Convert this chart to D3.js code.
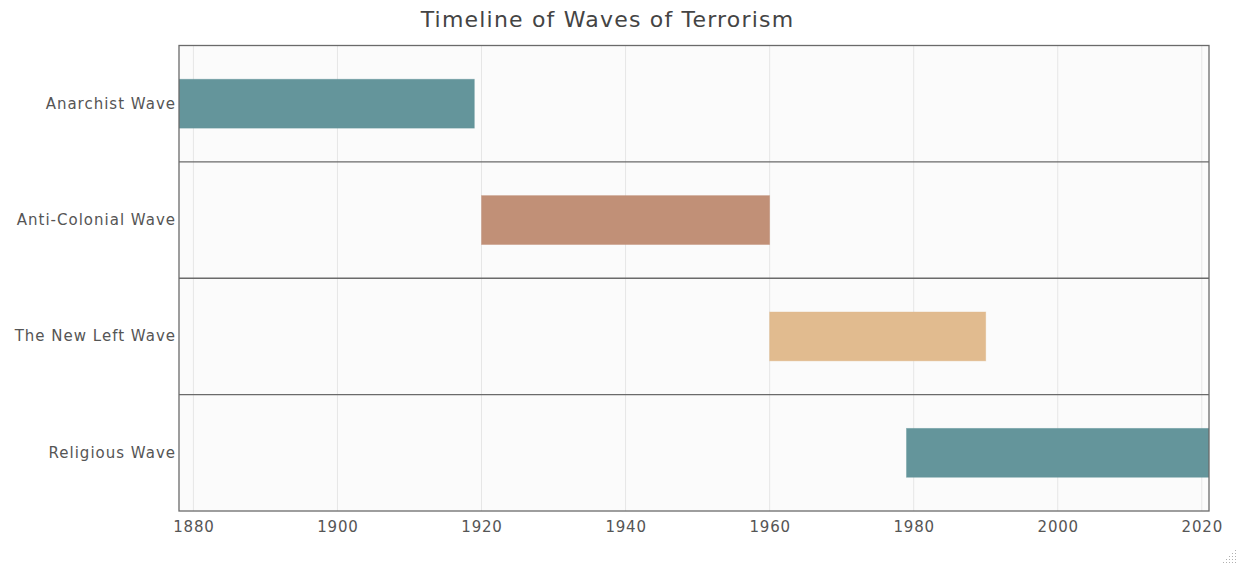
<!DOCTYPE html>
<html>
<head>
<meta charset="utf-8">
<script src="https://cdn.jsdelivr.net/npm/d3@7"></script>
<style>
  html, body { margin: 0; padding: 0; background: #fff; }
  svg { display: block; font-family: "DejaVu Sans", Verdana, sans-serif; }
</style>
</head>
<body>
<svg id="chart" width="1238" height="566"></svg>
<script>
// Rapoport's four waves of modern terrorism
const waves = ["Anarchist Wave", "Anti-Colonial Wave", "The New Left Wave", "Religious Wave"];
const startYears = [1878, 1920, 1960, 1979];
const endYears = [1919, 1960, 1990, 2021];
const waveColors = ["#64959b", "#c19077", "#e1bb8f", "#64959b"];
const xTicks = [1880, 1900, 1920, 1940, 1960, 1980, 2000, 2020];
const xDomain = [1878, 2021];

const svg = d3.select("#chart");
const margin = { left: 179, right: 29, top: 45.5, bottom: 55 };
const W = 1238, H = 566;
const x0 = margin.left, x1 = W - margin.right;
const y0 = margin.top, y1 = H - margin.bottom;

const x = d3.scaleLinear().domain(xDomain).range([x0, x1]);
const y = d3.scaleBand().domain(waves).range([y0, y1]).paddingInner(0).paddingOuter(0);

// plot background
svg.append("rect")
  .attr("x", x0).attr("y", y0)
  .attr("width", x1 - x0).attr("height", y1 - y0)
  .attr("fill", "#fbfbfb");

// vertical gridlines
svg.append("g")
  .selectAll("line")
  .data(xTicks)
  .join("line")
  .attr("x1", d => x(d)).attr("x2", d => x(d))
  .attr("y1", y0).attr("y2", y1)
  .attr("stroke", "#e6e6e6")
  .attr("stroke-width", 1);

// bars
const clipId = "plotclip";
svg.append("clipPath").attr("id", clipId)
  .append("rect").attr("x", x0).attr("y", y0)
  .attr("width", x1 - x0).attr("height", y1 - y0);

const barFrac = 0.42;
svg.append("g")
  .attr("clip-path", `url(#${clipId})`)
  .selectAll("rect")
  .data(waves.map((w, i) => ({ w, s: startYears[i], e: endYears[i], c: waveColors[i] })))
  .join("rect")
  .attr("x", d => x(d.s))
  .attr("width", d => x(d.e) - x(d.s))
  .attr("y", d => y(d.w) + y.bandwidth() * (1 - barFrac) / 2)
  .attr("height", y.bandwidth() * barFrac)
  .attr("fill", d => d.c)
  .attr("stroke", d => d.c)
  .attr("stroke-opacity", 0.5)
  .attr("stroke-width", 0.8);

// separators between rows
svg.append("g")
  .selectAll("line")
  .data(waves.slice(1))
  .join("line")
  .attr("x1", x0).attr("x2", x1)
  .attr("y1", d => y(d)).attr("y2", d => y(d))
  .attr("stroke", "#6a6a6a")
  .attr("stroke-width", 1.3);

// frame
svg.append("rect")
  .attr("x", x0).attr("y", y0)
  .attr("width", x1 - x0).attr("height", y1 - y0)
  .attr("fill", "none")
  .attr("stroke", "#6a6a6a")
  .attr("stroke-width", 1.3);

// x axis labels
const xAxis = d3.axisBottom(x).tickValues(xTicks).tickFormat(d3.format("d")).tickSize(0).tickPadding(10);
const gx = svg.append("g").attr("transform", `translate(0,${y1})`).call(xAxis);
gx.select(".domain").remove();
gx.selectAll("text").attr("fill", "#555").style("font-size", "15px")
  .style("letter-spacing", "0.8px")
  .style("font-family", "'DejaVu Sans', Verdana, sans-serif");

// y axis labels
const yAxis = d3.axisLeft(y).tickSize(0).tickPadding(3);
const gy = svg.append("g").attr("transform", `translate(${x0},0)`).call(yAxis);
gy.select(".domain").remove();
gy.selectAll("text").attr("fill", "#555").style("font-size", "15px")
  .style("letter-spacing", "1px")
  .style("font-family", "'DejaVu Sans', Verdana, sans-serif");

// title
svg.append("text")
  .attr("x", 607.5)
  .attr("y", 27)
  .attr("text-anchor", "middle")
  .attr("fill", "#444")
  .style("font-size", "22px")
  .style("letter-spacing", "1.2px")
  .text("Timeline of Waves of Terrorism");

// resize grip in the corner
const grip = svg.append("g").attr("fill", "#b0b0b0");
for (let r = 0; r < 5; r++) {
  for (let c = 0; c <= r; c++) {
    grip.append("rect")
      .attr("x", 1235 - c * 3).attr("y", 550 + r * 3)
      .attr("width", 1).attr("height", 1);
  }
}
</script>
</body>
</html>
